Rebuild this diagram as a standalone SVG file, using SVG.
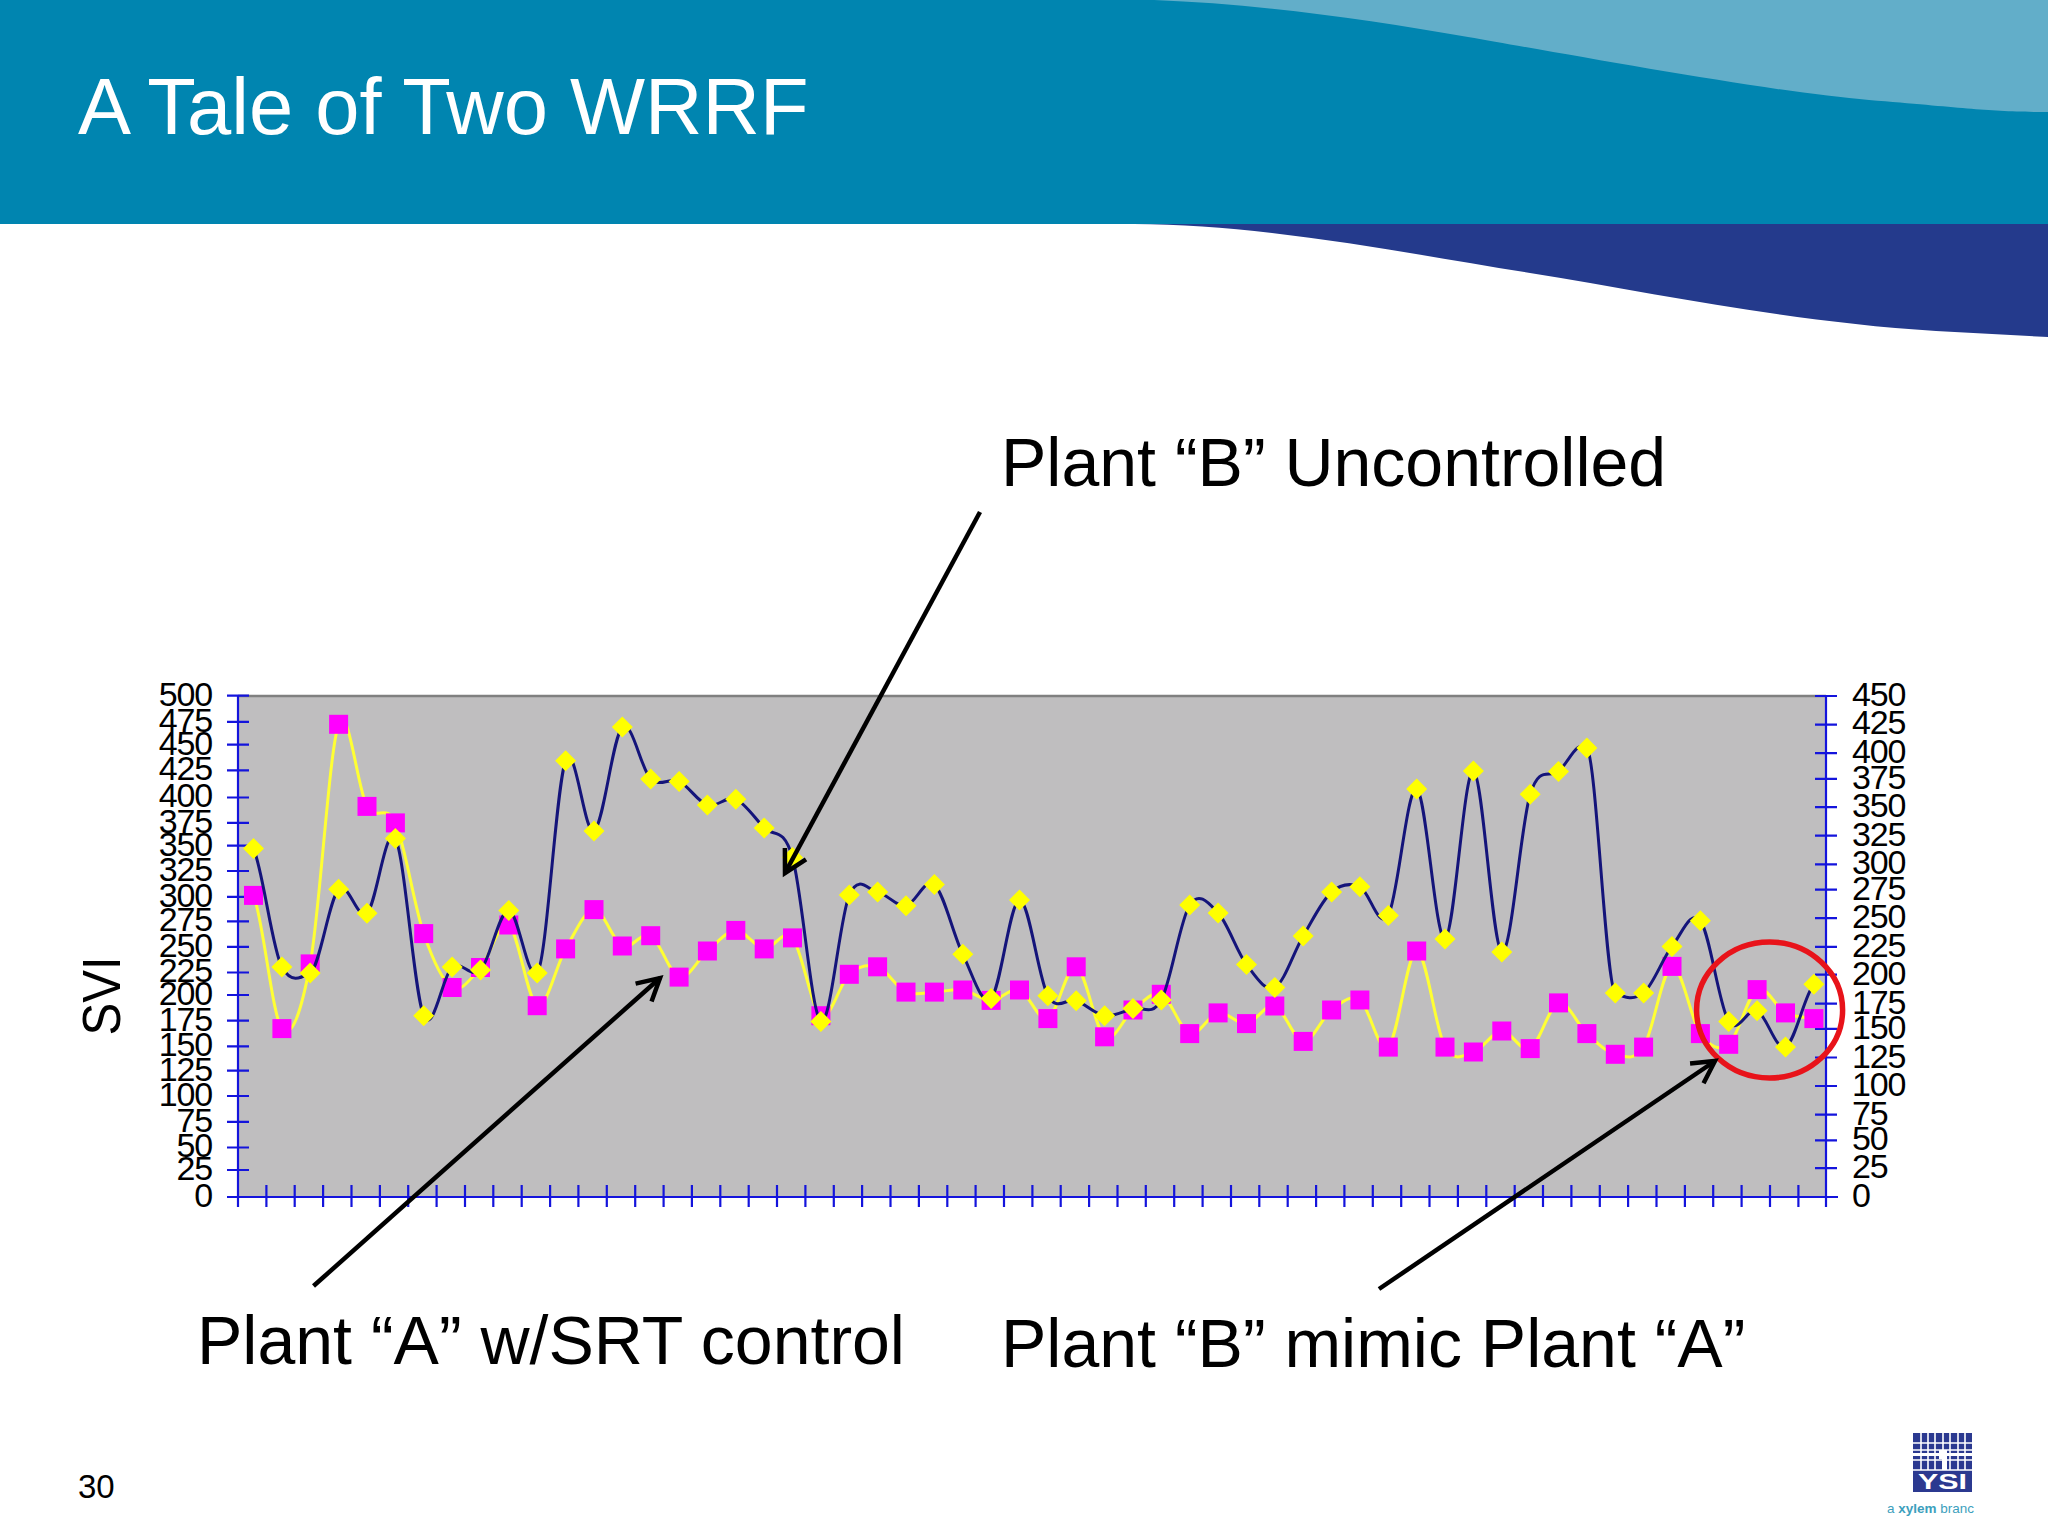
<svg xmlns="http://www.w3.org/2000/svg" width="2048" height="1536" viewBox="0 0 2048 1536">
<style>
text{font-family:"Liberation Sans",Arial,sans-serif;fill:#000}
.t{font-size:34px;letter-spacing:-1.2px}
.l{text-anchor:end}
.lab{font-size:68px}
.ax{stroke:#1414dc;stroke-width:2.2;fill:none}
.arrow{stroke:#000;stroke-width:4.5;fill:none;marker-end:url(#ah)}
.gw{stroke:#fff;stroke-width:1.6;fill:none}
</style>
<defs>
<marker id="ah" markerUnits="userSpaceOnUse" markerWidth="40" markerHeight="40" refX="30" refY="20" orient="auto"><path d="M8 8L30 20L8 32" fill="none" stroke="#000" stroke-width="4.5"/></marker>
<rect id="s" x="-9.5" y="-9.5" width="19" height="19" fill="#ff00ff"/>
<path id="d" d="M0-10.5L10.5 0L0 10.5L-10.5 0Z" fill="#ffff00"/>
</defs>
<rect width="2048" height="1536" fill="#fff"/>
<g id="banner">
<path d="M1134 224C1260 224 1400 252 1530 273S1790 322 1936 331L2048 337V224Z" fill="#243a8c"/>
<rect width="2048" height="224" fill="#0085b0"/>
<path d="M1154 0C1260 4 1370 20 1468 37S1770 92 1869 100S1990 112 2048 112V0Z" fill="#62aec9"/>
<text x="78" y="134" font-size="79.5" style="fill:#fff">A Tale of Two WRRF</text>
</g>
<g id="chart">
<rect x="238" y="696" width="1588" height="501" fill="#bfbebf"/>
<path d="M238 696H1826" stroke="#808080" stroke-width="2.5"/>
<path class="ax" d="M238 696V1207M1826 696V1207M227 1197H1838"/>
<path class="ax" d="M227 695.7h22M227 721.8h22M227 744.6h22M227 770.4h22M227 797.5h22M227 822.9h22M227 845.7h22M227 871h22M227 896.8h22M227 921.4h22M227 946.8h22M227 972.5h22M227 995h22M227 1020.7h22M227 1046.4h22M227 1070.7h22M227 1096h22M227 1121.8h22M227 1147.5h22M227 1170h22"/>
<path class="ax" d="M1815 696h22M1815 724.6h22M1815 753.2h22M1815 778.9h22M1815 807.1h22M1815 835.7h22M1815 864.3h22M1815 889.6h22M1815 918.2h22M1815 946.8h22M1815 974.6h22M1815 1003.6h22M1815 1028.9h22M1815 1057.5h22M1815 1086h22M1815 1114.6h22M1815 1140.4h22M1815 1168.2h22"/>
<path class="ax" d="M266.4 1185v22M294.7 1185v22M323.1 1185v22M351.5 1185v22M379.9 1185v22M408.2 1185v22M436.6 1185v22M465 1185v22M493.3 1185v22M521.7 1185v22M550.1 1185v22M578.4 1185v22M606.8 1185v22M635.2 1185v22M663.6 1185v22M691.9 1185v22M720.3 1185v22M748.7 1185v22M777 1185v22M805.4 1185v22M833.8 1185v22M862.1 1185v22M890.5 1185v22M918.9 1185v22M947.3 1185v22M975.6 1185v22M1004 1185v22M1032.4 1185v22M1060.7 1185v22M1089.1 1185v22M1117.5 1185v22M1145.8 1185v22M1174.2 1185v22M1202.6 1185v22M1231 1185v22M1259.3 1185v22M1287.7 1185v22M1316.1 1185v22M1344.4 1185v22M1372.8 1185v22M1401.2 1185v22M1429.5 1185v22M1457.9 1185v22M1486.3 1185v22M1514.7 1185v22M1543 1185v22M1571.4 1185v22M1599.8 1185v22M1628.1 1185v22M1656.5 1185v22M1684.9 1185v22M1713.2 1185v22M1741.6 1185v22M1770 1185v22M1798.4 1185v22"/>
<g class="t l">
<text x="212" y="706">500</text><text x="212" y="732">475</text><text x="212" y="755">450</text><text x="212" y="780">425</text><text x="212" y="807">400</text><text x="212" y="833">375</text><text x="212" y="856">350</text><text x="212" y="881">325</text><text x="212" y="907">300</text><text x="212" y="931">275</text><text x="212" y="957">250</text><text x="212" y="982">225</text><text x="212" y="1005">200</text><text x="212" y="1031">175</text><text x="212" y="1056">150</text><text x="212" y="1081">125</text><text x="212" y="1106">100</text><text x="212" y="1132">75</text><text x="212" y="1157">50</text><text x="212" y="1180">25</text><text x="212" y="1207">0</text>
</g>
<g class="t">
<text x="1852" y="706">450</text><text x="1852" y="734">425</text><text x="1852" y="763">400</text><text x="1852" y="789">375</text><text x="1852" y="817">350</text><text x="1852" y="846">325</text><text x="1852" y="874">300</text><text x="1852" y="900">275</text><text x="1852" y="928">250</text><text x="1852" y="957">225</text><text x="1852" y="985">200</text><text x="1852" y="1014">175</text><text x="1852" y="1039">150</text><text x="1852" y="1068">125</text><text x="1852" y="1096">100</text><text x="1852" y="1125">75</text><text x="1852" y="1150">50</text><text x="1852" y="1178">25</text><text x="1852" y="1207">0</text>
</g>
<path id="plant-a-line" fill="none" stroke="#ffff33" stroke-width="3" d="M253.5 895.4C263 917.6 272.4 1017.2 281.9 1028.6S300.7 1014.6 310.2 963.9S329.1 750.6 338.6 724.3S357.5 790 367 806.4S385.9 801.7 395.4 822.9S414.2 906.2 423.7 933.6S442.6 981.8 452.1 987.5S471 977.9 480.5 967.5S499.3 918.6 508.8 925S527.7 1001.7 537.2 1005.7S556.1 964.9 565.6 948.9S584.5 910.1 594 909.6S612.8 941.6 622.3 946S641.2 930.5 650.7 935.7S669.6 974.5 679.1 977.1S697.9 958.8 707.4 951S726.3 930.8 735.8 930.4S754.7 947.6 764.2 948.9S783 926.8 792.5 937.9S811.4 1009.6 820.9 1015.7S839.8 982.5 849.3 974.3S868.1 963.8 877.6 966.8S896.5 987.9 906 992.1S924.9 992.5 934.4 992.1S953.3 988.6 962.8 990S981.6 1000.4 991.1 1000.4S1010 987 1019.5 990S1038.4 1022.5 1047.9 1018.6S1066.7 963.8 1076.2 966.8S1095.1 1029.6 1104.6 1036.8S1123.5 1017.1 1133 1010S1151.8 990.4 1161.3 994.3S1180.2 1030.5 1189.7 1033.6S1208.6 1014.6 1218.1 1012.9S1237 1024.8 1246.5 1023.6S1265.3 1003 1274.8 1006S1293.7 1040.7 1303.2 1041.4S1322.1 1016.9 1331.6 1010S1350.4 993.8 1359.9 1000S1378.8 1055.3 1388.3 1047.1S1407.2 951 1416.7 951S1435.5 1030.3 1445 1047.1S1463.9 1054.7 1473.4 1052S1492.3 1031.6 1501.8 1031S1520.7 1053.3 1530.2 1048.6S1549 1005.4 1558.5 1002.9S1577.4 1025 1586.9 1033.6S1605.8 1052 1615.3 1054.3S1634.1 1061.8 1643.6 1047.1S1662.5 968.7 1672 966.4S1690.9 1020.6 1700.4 1033.6S1719.2 1051.6 1728.7 1044.3S1747.6 994.8 1757.1 989.6S1776 1008.1 1785.5 1012.9S1804.4 1017 1813.9 1018.6"/>
<g id="plant-a-points">
<use href="#s" x="253.5" y="895.4"/><use href="#s" x="281.9" y="1028.6"/><use href="#s" x="310.2" y="963.9"/><use href="#s" x="338.6" y="724.3"/><use href="#s" x="367" y="806.4"/><use href="#s" x="395.4" y="822.9"/><use href="#s" x="423.7" y="933.6"/><use href="#s" x="452.1" y="987.5"/><use href="#s" x="480.5" y="967.5"/><use href="#s" x="508.8" y="925"/><use href="#s" x="537.2" y="1005.7"/><use href="#s" x="565.6" y="948.9"/><use href="#s" x="594" y="909.6"/><use href="#s" x="622.3" y="946"/><use href="#s" x="650.7" y="935.7"/><use href="#s" x="679.1" y="977.1"/><use href="#s" x="707.4" y="951"/><use href="#s" x="735.8" y="930.4"/><use href="#s" x="764.2" y="948.9"/><use href="#s" x="792.5" y="937.9"/><use href="#s" x="820.9" y="1015.7"/><use href="#s" x="849.3" y="974.3"/><use href="#s" x="877.6" y="966.8"/><use href="#s" x="906" y="992.1"/><use href="#s" x="934.4" y="992.1"/><use href="#s" x="962.8" y="990"/><use href="#s" x="991.1" y="1000.4"/><use href="#s" x="1019.5" y="990"/><use href="#s" x="1047.9" y="1018.6"/><use href="#s" x="1076.2" y="966.8"/><use href="#s" x="1104.6" y="1036.8"/><use href="#s" x="1133" y="1010"/><use href="#s" x="1161.3" y="994.3"/><use href="#s" x="1189.7" y="1033.6"/><use href="#s" x="1218.1" y="1012.9"/><use href="#s" x="1246.5" y="1023.6"/><use href="#s" x="1274.8" y="1006"/><use href="#s" x="1303.2" y="1041.4"/><use href="#s" x="1331.6" y="1010"/><use href="#s" x="1359.9" y="1000"/><use href="#s" x="1388.3" y="1047.1"/><use href="#s" x="1416.7" y="951"/><use href="#s" x="1445" y="1047.1"/><use href="#s" x="1473.4" y="1052"/><use href="#s" x="1501.8" y="1031"/><use href="#s" x="1530.2" y="1048.6"/><use href="#s" x="1558.5" y="1002.9"/><use href="#s" x="1586.9" y="1033.6"/><use href="#s" x="1615.3" y="1054.3"/><use href="#s" x="1643.6" y="1047.1"/><use href="#s" x="1672" y="966.4"/><use href="#s" x="1700.4" y="1033.6"/><use href="#s" x="1728.7" y="1044.3"/><use href="#s" x="1757.1" y="989.6"/><use href="#s" x="1785.5" y="1012.9"/><use href="#s" x="1813.9" y="1018.6"/>
</g>
<path id="plant-b-line" fill="none" stroke="#14147a" stroke-width="3" d="M253.5 848.6C263 870 272.4 950 281.9 967.1S300.7 978 310.2 972.9S329.1 899.3 338.6 889.3S357.5 921.7 367 913.2S385.9 821.5 395.4 838.6S414.2 994.3 423.7 1015.7S442.6 974.7 452.1 967.1S471 979.5 480.5 970S499.3 909.9 508.8 910.4S527.7 982.9 537.2 972.9S556.1 784.3 565.6 760.7S584.5 836.7 594 831.1S612.8 735.8 622.3 727.1S641.2 769.9 650.7 778.9S669.6 777 679.1 781.4S697.9 802 707.4 805S726.3 795.5 735.8 799.3S754.7 818.2 764.2 827.9S783 825.2 792.5 857.5S811.4 1015.1 820.9 1021.4S839.8 916.6 849.3 895S868.1 890.3 877.6 892.1S896.5 907 906 905.7S924.9 876.5 934.4 884.6S953.3 935.3 962.8 954.3S981.6 1007.6 991.1 998.6S1010 900.5 1019.5 900S1038.4 978.9 1047.9 995.7S1066.7 997.4 1076.2 1000.7S1095.1 1014.4 1104.6 1015.7S1123.5 1011.2 1133 1008.6S1151.8 1017.3 1161.3 1000S1180.2 919.5 1189.7 905S1208.6 903 1218.1 912.9S1237 952.2 1246.5 964.6S1265.3 992.3 1274.8 987.5S1293.7 951.9 1303.2 936S1322.1 900.2 1331.6 892S1350.4 882.9 1359.9 886.8S1378.8 931.7 1388.3 915.4S1407.2 785 1416.7 788.9S1435.5 941.9 1445 938.9S1463.9 768.8 1473.4 771S1492.3 948.1 1501.8 952S1520.7 824.4 1530.2 794.3S1549 779.1 1558.5 771.4S1577.4 738 1586.9 747.9S1605.8 988 1615.3 992.9S1634.1 1000.7 1643.6 992.9S1662.5 958.4 1672 946.4S1690.9 908.2 1700.4 920.7S1719.2 1006.4 1728.7 1021.4S1747.6 1006.4 1757.1 1010.7S1776 1051.4 1785.5 1047S1804.4 995 1813.9 984.3"/>
<g id="plant-b-points">
<use href="#d" x="253.5" y="848.6"/><use href="#d" x="281.9" y="967.1"/><use href="#d" x="310.2" y="972.9"/><use href="#d" x="338.6" y="889.3"/><use href="#d" x="367" y="913.2"/><use href="#d" x="395.4" y="838.6"/><use href="#d" x="423.7" y="1015.7"/><use href="#d" x="452.1" y="967.1"/><use href="#d" x="480.5" y="970"/><use href="#d" x="508.8" y="910.4"/><use href="#d" x="537.2" y="972.9"/><use href="#d" x="565.6" y="760.7"/><use href="#d" x="594" y="831.1"/><use href="#d" x="622.3" y="727.1"/><use href="#d" x="650.7" y="778.9"/><use href="#d" x="679.1" y="781.4"/><use href="#d" x="707.4" y="805"/><use href="#d" x="735.8" y="799.3"/><use href="#d" x="764.2" y="827.9"/><use href="#d" x="792.5" y="857.5"/><use href="#d" x="820.9" y="1021.4"/><use href="#d" x="849.3" y="895"/><use href="#d" x="877.6" y="892.1"/><use href="#d" x="906" y="905.7"/><use href="#d" x="934.4" y="884.6"/><use href="#d" x="962.8" y="954.3"/><use href="#d" x="991.1" y="998.6"/><use href="#d" x="1019.5" y="900"/><use href="#d" x="1047.9" y="995.7"/><use href="#d" x="1076.2" y="1000.7"/><use href="#d" x="1104.6" y="1015.7"/><use href="#d" x="1133" y="1008.6"/><use href="#d" x="1161.3" y="1000"/><use href="#d" x="1189.7" y="905"/><use href="#d" x="1218.1" y="912.9"/><use href="#d" x="1246.5" y="964.6"/><use href="#d" x="1274.8" y="987.5"/><use href="#d" x="1303.2" y="936"/><use href="#d" x="1331.6" y="892"/><use href="#d" x="1359.9" y="886.8"/><use href="#d" x="1388.3" y="915.4"/><use href="#d" x="1416.7" y="788.9"/><use href="#d" x="1445" y="938.9"/><use href="#d" x="1473.4" y="771"/><use href="#d" x="1501.8" y="952"/><use href="#d" x="1530.2" y="794.3"/><use href="#d" x="1558.5" y="771.4"/><use href="#d" x="1586.9" y="747.9"/><use href="#d" x="1615.3" y="992.9"/><use href="#d" x="1643.6" y="992.9"/><use href="#d" x="1672" y="946.4"/><use href="#d" x="1700.4" y="920.7"/><use href="#d" x="1728.7" y="1021.4"/><use href="#d" x="1757.1" y="1010.7"/><use href="#d" x="1785.5" y="1047"/><use href="#d" x="1813.9" y="984.3"/>
</g>
<ellipse id="highlight" cx="1769.6" cy="1010" rx="73" ry="68" fill="none" stroke="#e8131a" stroke-width="5.5"/>
</g>
<g id="connectors">
<path class="arrow" d="M980 512L785 873"/>
<path class="arrow" d="M313.5 1286L660 978"/>
<path class="arrow" d="M1379 1289L1715 1061"/>
</g>
<g id="labels">
<text class="lab" x="1001" y="486">Plant “B” Uncontrolled</text>
<text class="lab" x="197" y="1364">Plant “A” w/SRT control</text>
<text class="lab" x="1001" y="1367">Plant “B” mimic Plant “A”</text>
<text x="120" y="996" font-size="54" text-anchor="middle" textLength="79" lengthAdjust="spacingAndGlyphs" transform="rotate(-90 120 996)">SVI</text>
<text x="78" y="1498" font-size="33">30</text>
</g>
<g id="logo">
<rect x="1913" y="1433" width="59" height="59" fill="#2b3990"/>
<path class="gw" d="M1921 1433V1470M1928 1433V1470M1935 1433V1470M1943 1433V1470M1950 1433V1470M1958 1433V1470M1965 1433V1470M1913 1443H1972M1913 1450H1972M1913 1460H1972M1913 1470H1972"/>
<path d="M1913 1453H1972V1456H1913ZM1939 1450H1947V1470H1942V1459H1939Z" fill="#fff"/>
<text x="1918" y="1489" font-size="22" font-weight="bold" textLength="49" lengthAdjust="spacingAndGlyphs" style="fill:#fff">YSI</text>
<text x="1887" y="1513" font-size="13.5" style="fill:#3d9fbd">a <tspan font-weight="bold">xylem</tspan> branc</text>
</g>
</svg>
